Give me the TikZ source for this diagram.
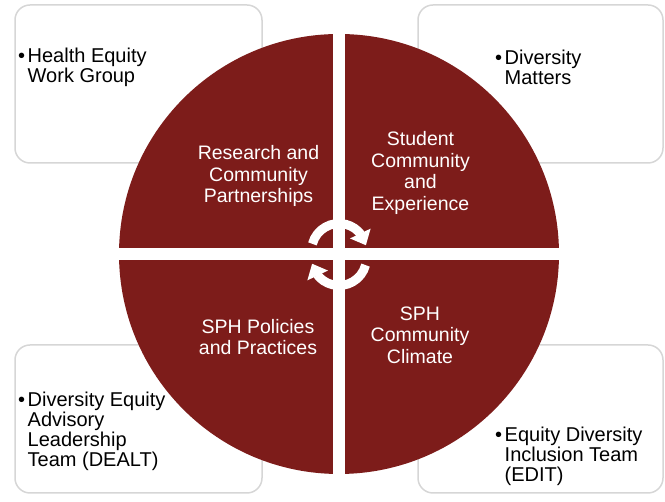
\documentclass[tikz,border=0pt]{standalone}
\usepackage{fontspec}
\setmainfont{Liberation Sans}
\usetikzlibrary{arrows.meta,bending}
\definecolor{sphred}{RGB}{125,28,26}
\definecolor{boxgray}{RGB}{214,214,214}
\newcommand\myblt{\makebox[9.5pt][l]{•}}
\newcommand\myind{\hspace*{9.5pt}}
\begin{document}
\begin{tikzpicture}[x=1pt,y=1pt,
  cbox/.style={draw=boxgray, line width=1.5pt, fill=white, rounded corners=15pt},
  qtext/.style={text=white, align=center, font=\fontsize{19.5}{21.5}\selectfont, inner sep=0},
  btext/.style={text=black, align=left, font=\fontsize{20}{20.3}\selectfont, inner sep=0, anchor=north west},
  cyc/.style={white, line width=9pt, -{Triangle[width=22pt,length=13pt,flex]}}]
\useasboundingbox (0,0) rectangle (665,502);
% corner boxes
\draw[cbox] (15,339) rectangle (262,497);
\draw[cbox] (418,339) rectangle (663,497);
\draw[cbox] (15,9) rectangle (262,157);
\draw[cbox] (418,9) rectangle (663,157);
% circle with white cross
\fill[sphred] (339,248) circle[radius=220pt];
\fill[white] (333,20) rectangle (345,476);
\fill[white] (110,242) rectangle (570,254);
% cycle arrows
\draw[cyc] (339,251) ++(165:27.5pt) arc[start angle=165, end angle=12, radius=27.5pt];
\draw[cyc] (339,244) ++(-15:27.5pt) arc[start angle=-15, end angle=-168, radius=27.5pt];
% quadrant texts
\node[qtext] (rcp) at (258.5,326) {Research and\\Community\\Partnerships};
\node[qtext] (sce) at (420.5,329) {Student\\Community\\and\\Experience};
\node[qtext] (spp) at (258,165) {SPH Policies\\and Practices};
\node[qtext] (scc) at (420,167) {SPH\\Community\\Climate};
% box texts
\node[btext] (tl) at (18,454.6) {\myblt Health Equity\\\myind Work Group};
\node[btext] (tr) at (495,452.6) {\myblt Diversity\\\myind Matters};
\node[btext] (bl) at (18,110.6) {\myblt Diversity Equity\\\myind Advisory\\\myind Leadership\\\myind Team (DEALT)};
\node[btext] (br) at (495,75.6) {\myblt Equity Diversity\\\myind Inclusion Team\\\myind (EDIT)};
\end{tikzpicture}
\end{document}
